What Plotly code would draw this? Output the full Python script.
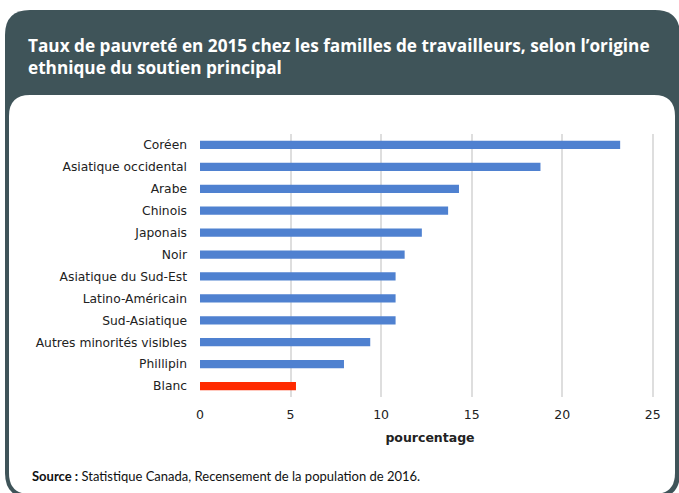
import plotly.graph_objects as go

categories = ["Coréen", "Asiatique occidental", "Arabe", "Chinois", "Japonais", "Noir",
              "Asiatique du Sud-Est", "Latino-Américain", "Sud-Asiatique",
              "Autres minorités visibles", "Phillipin", "Blanc"]
values = [23.2, 18.8, 14.3, 13.7, 12.25, 11.3, 10.8, 10.8, 10.8, 9.4, 7.95, 5.3]
colors = ["#4f81d0"] * 11 + ["#ff2a00"]

W, H = 679, 493
L, R, T, B = 200, 19, 134, 96
PW, PH = W - L - R, H - T - B


def px(x):
    return (x - L) / PW


def py(y):
    return 1 - (y - T) / PH


def rounded(x0, y0, x1, y1, r):
    pts = [("M", [(x0 + r, y0)]), ("L", [(x1 - r, y0)]), ("Q", [(x1, y0), (x1, y0 + r)]),
           ("L", [(x1, y1 - r)]), ("Q", [(x1, y1), (x1 - r, y1)]), ("L", [(x0 + r, y1)]),
           ("Q", [(x0, y1), (x0, y1 - r)]), ("L", [(x0, y0 + r)]), ("Q", [(x0, y0), (x0 + r, y0)])]
    s = ""
    for cmd, ps in pts:
        s += cmd + " " + " ".join("{:.5f},{:.5f}".format(px(a), py(b)) for a, b in ps) + " "
    return s + "Z"


# reverse so the first category sits at the top
fig = go.Figure(go.Bar(
    x=values[::-1], y=categories[::-1], orientation="h",
    marker=dict(color=colors[::-1], line=dict(width=0)),
))

fig.update_layout(
    width=W, height=H,
    margin=dict(l=L, r=R, t=T, b=B, pad=0),
    paper_bgcolor="white", plot_bgcolor="rgba(0,0,0,0)",
    bargap=0.62, showlegend=False,
    font=dict(family="DejaVu Sans", size=12, color="#222222"),
    xaxis=dict(range=[0, 25.4], tickvals=[0, 5, 10, 15, 20, 25], showgrid=True,
               gridcolor="#dedede", gridwidth=1.5, zeroline=False, showline=False,
               tickfont=dict(size=12.5), ticks="", ticklabelstandoff=8,
               title=dict(text="<b>pourcentage</b>", font=dict(size=12.5), standoff=12)),
    yaxis=dict(showgrid=False, zeroline=False, ticks="", ticklabelstandoff=12,
               tickfont=dict(size=12.3)),
    shapes=[
        dict(type="path", xref="paper", yref="paper", layer="below",
             path=rounded(5, 10, 680, 498, 25), fillcolor="#3f5459", line=dict(width=0)),
        dict(type="path", xref="paper", yref="paper", layer="below",
             path=rounded(9, 95, 675, 494, 21), fillcolor="white", line=dict(width=0)),
    ],
    annotations=[
        dict(text="<b>Taux de pauvreté en 2015 chez les familles de travailleurs, selon l’origine<br>ethnique du soutien principal</b>",
             xref="paper", yref="paper", x=px(26), y=py(32), xanchor="left", yanchor="top",
             align="left", showarrow=False,
             font=dict(family="Open Sans", size=17.2, color="white")),
        dict(text="<b>Source :</b> Statistique Canada, Recensement de la population de 2016.",
             xref="paper", yref="paper", x=px(30), y=py(476), xanchor="left", yanchor="middle",
             showarrow=False, font=dict(family="Lato", size=13, color="#111111")),
    ],
)

# the page has a default body margin; drop it so the figure fills the window
fig.write_html("out.html", config={"displayModeBar": False},
               post_script="document.body.style.margin='0';")
